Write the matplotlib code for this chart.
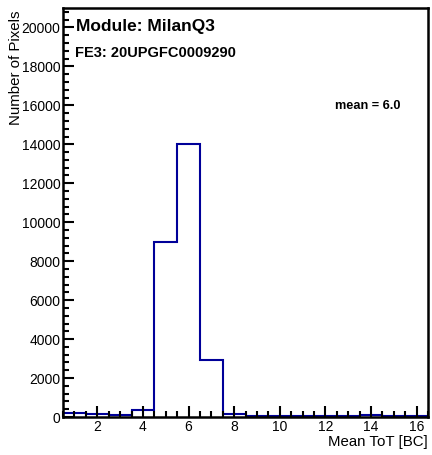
import numpy as np
import matplotlib.pyplot as plt
from matplotlib.ticker import MultipleLocator

plt.rcParams['font.family'] = ['Liberation Sans', 'DejaVu Sans']

# Histogram data: bin edges and counts per bin
bin_edges = np.arange(0.5, 17.5, 1.0)
counts = [220, 160, 90, 360, 9000, 14000, 2950, 130, 50, 50, 50, 50, 50, 80, 40, 40]

module_name = "Module: MilanQ3"
fe_name = "FE3: 20UPGFC0009290"
mean_text = "mean = 6.0"

fig = plt.figure(figsize=(4.32, 4.55), dpi=100)
ax = fig.add_axes([0.146, 0.0835, 0.845, 0.899])

ax.stairs(counts, bin_edges, color="#000099", linewidth=1.5)

ax.set_xlim(0.5, 16.5)
ax.set_ylim(0, 21000)

ax.xaxis.set_major_locator(MultipleLocator(2))
ax.xaxis.set_minor_locator(MultipleLocator(0.5))
ax.yaxis.set_major_locator(MultipleLocator(2000))
ax.yaxis.set_minor_locator(MultipleLocator(400))
ax.tick_params(which="both", direction="in", width=1.5, labelsize=10, pad=2)
ax.tick_params(which="major", length=8)
ax.tick_params(which="minor", length=4)
for s in ax.spines.values():
    s.set_linewidth(1.8)

ax.set_xlabel("Mean ToT [BC]", fontsize=10.8, loc="right", labelpad=1)
ax.set_ylabel("Number of Pixels", fontsize=10.8, loc="top")
ax.yaxis.set_label_coords(-0.11, 0.995)

ax.text(0.035, 0.954, module_name, transform=ax.transAxes, fontsize=12.5,
        fontweight="bold", va="center")
ax.text(0.033, 0.89, fe_name, transform=ax.transAxes, fontsize=10.5,
        fontweight="bold", va="center")
ax.text(0.835, 0.76, mean_text, transform=ax.transAxes, fontsize=9.2,
        fontweight="bold", ha="center", va="center")

fig.savefig("out.png", dpi=100)
